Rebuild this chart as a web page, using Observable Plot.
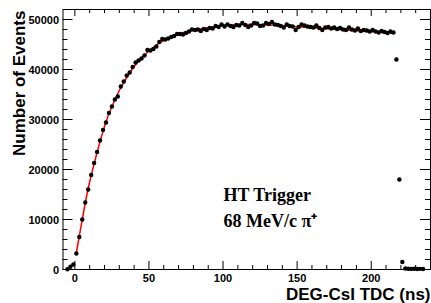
<!DOCTYPE html>
<html><head><meta charset="utf-8">
<script src="https://cdn.jsdelivr.net/npm/d3@7"></script>
<script src="https://cdn.jsdelivr.net/npm/@observablehq/plot@0.6"></script>
<style>
html,body{margin:0;padding:0;background:#fff;}
#chart svg{display:block;}
</style>
</head><body>
<div id="chart"></div>
<script>
// histogram: centre of first bin and bin width (ns)
const binStart = -5;
const binWidth = 2;
// counts per bin
const counts = [
  60, 550, 1000,
  3200, 6500, 10000, 13400, 16000, 18900, 21300, 23500, 25800, 27900,
  29400, 31300, 32600, 34000, 34600, 36600, 37600, 38800, 39400, 40500,
  41400, 41800, 42200, 42800, 43900,
  43800, 44100, 44600, 45500, 46100, 46000, 46200, 46500, 46700, 47100,
  47100, 47000, 47300, 47600, 48000, 47900, 48000, 47700, 48100, 47900,
  48300, 48200, 48700, 48500, 49000, 48600, 49000, 48700, 48500, 48900,
  48800, 49300, 48900, 48500, 48800, 49300, 49200, 48700, 48800, 49300,
  49100, 49500, 49000, 48900, 48700, 48400, 49000, 48700, 48600, 47900,
  48500, 49000, 48800, 48600, 48500, 48400, 48800, 48300, 47900, 48400,
  48500, 48200, 48400, 48100, 48300, 48000, 47900, 48400, 48000, 47800,
  48200, 47700, 47900, 47800, 47600, 47900, 47600, 47400, 47700, 47500,
  47300, 47600, 47400, 42000, 18000, 1500,
  200, 150, 120, 150, 100, 130, 100
];
// fitted curve (red)
const fitX = [1, 3, 5, 8, 11, 15, 20, 25, 30, 35, 40, 45, 50, 55, 60, 65, 70, 80, 90, 100, 110, 120, 130, 140, 150, 160, 170, 180, 190, 200, 210, 214];
const fitY = [3300, 6700, 10000, 14800, 18800, 23400, 28600, 32600, 35800, 38400, 40600, 42300, 43700, 44900, 45800, 46500, 47100, 47900, 48400, 48800, 49000, 49000, 48900, 48750, 48550, 48350, 48150, 47950, 47750, 47550, 47350, 47270];

const xDomain = [-8, 240];
const yDomain = [0, 52000];
const xMajorTicks = [0, 50, 100, 150, 200];
const xMinorTicks = [10, 20, 30, 40, 60, 70, 80, 90, 110, 120, 130, 140, 160, 170, 180, 190, 210, 220, 230];
const yMajorTicks = [0, 10000, 20000, 30000, 40000, 50000];
const yMinorTicks = [2000, 4000, 6000, 8000, 12000, 14000, 16000, 18000, 22000, 24000, 26000, 28000, 32000, 34000, 36000, 38000, 42000, 44000, 46000, 48000];
const xLabel = "DEG-CsI TDC (ns)";
const yLabel = "Number of Events";
const notes = ["HT Trigger", "68 MeV/c \u03C0\u207A"];

const hist = counts.map((c, i) => ({x: binStart + i * binWidth, y: c}));
const fit = fitX.map((x, i) => ({x, y: fitY[i]}));

const W = 431, H = 303;
const mL = 62.5, mR = 1, mT = 9, mB = 34;
const iw = W - mL - mR, ih = H - mT - mB;
const sans = "'Liberation Sans', Arial, Helvetica, sans-serif";
const serif = "'Liberation Serif', 'Times New Roman', serif";

const chart = Plot.plot({
  width: W, height: H,
  marginLeft: mL, marginRight: mR, marginTop: mT, marginBottom: mB,
  x: {domain: xDomain, axis: null},
  y: {domain: yDomain, axis: null},
  style: {fontFamily: sans, background: "#fff", color: "#000", overflow: "visible"},
  marks: [
    // inward ticks, all four sides
    Plot.tickX(xMajorTicks, {x: d => d, insetTop: ih - 8, stroke: "#000"}),
    Plot.tickX(xMinorTicks, {x: d => d, insetTop: ih - 4, stroke: "#000"}),
    Plot.tickX(xMajorTicks, {x: d => d, insetBottom: ih - 7, stroke: "#000"}),
    Plot.tickX(xMinorTicks, {x: d => d, insetBottom: ih - 4, stroke: "#000"}),
    Plot.tickY(yMajorTicks, {y: d => d, insetRight: iw - 10, stroke: "#000"}),
    Plot.tickY(yMinorTicks, {y: d => d, insetRight: iw - 5, stroke: "#000"}),
    Plot.tickY(yMajorTicks, {y: d => d, insetLeft: iw - 10, stroke: "#000"}),
    Plot.tickY(yMinorTicks, {y: d => d, insetLeft: iw - 5, stroke: "#000"}),
    Plot.frame({stroke: "#000"}),
    // tick labels
    Plot.text(xMajorTicks, {x: d => d, text: d => String(d), frameAnchor: "bottom", lineAnchor: "top", dy: 4.5, fontSize: 11, fontWeight: "bold", fill: "#000"}),
    Plot.text(yMajorTicks, {y: d => d, text: d => String(d), frameAnchor: "left", textAnchor: "end", dx: -4, dy: 0.5, fontSize: 11, fontWeight: "bold", fill: "#000"}),
    // axis titles
    Plot.text([xLabel], {text: d => d, frameAnchor: "bottom-right", textAnchor: "end", lineAnchor: "bottom", dy: 30, fontSize: 17, fontWeight: "bold", fill: "#000"}),
    Plot.text([yLabel], {text: d => d, frameAnchor: "top-left", textAnchor: "end", lineAnchor: "bottom", rotate: -90, dx: -38.5, dy: 1, fontSize: 17, fontWeight: "bold", fill: "#000"}),
    // fit and data
    Plot.line(fit, {x: "x", y: "y", stroke: "#ff0000", strokeWidth: 1.5, curve: "natural"}),
    Plot.dot(hist, {x: "x", y: "y", r: 2.2, fill: "#000", stroke: "none"}),
    // annotation
    Plot.text([notes[0]], {text: d => d, frameAnchor: "bottom-left", textAnchor: "start", lineAnchor: "bottom", dx: 160.5, dy: -69, fontSize: 18, fontWeight: "bold", fontFamily: serif, fill: "#000"}),
    Plot.text([notes[1]], {text: d => d, frameAnchor: "bottom-left", textAnchor: "start", lineAnchor: "bottom", dx: 160.5, dy: -42.5, fontSize: 18, fontWeight: "bold", fontFamily: serif, fill: "#000"})
  ]
});
document.getElementById("chart").appendChild(chart);
</script>
</body></html>
